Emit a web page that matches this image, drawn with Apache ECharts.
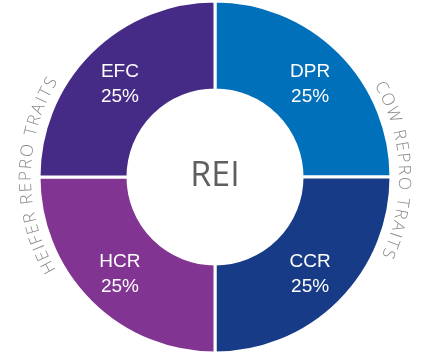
<!DOCTYPE html>
<html>
<head>
<meta charset="utf-8">
<script src="https://cdn.jsdelivr.net/npm/echarts@6/dist/echarts.min.js"></script>
<style>
  html, body { margin: 0; padding: 0; background: #fff; }
  #main { width: 429px; height: 354px; }
</style>
</head>
<body>
<div id="main"></div>
<script>
// traits, clockwise from 12 o'clock
const traits = ['DPR', 'CCR', 'HCR', 'EFC'];
const shares = [25, 25, 25, 25];
const colors = ['#0070bb', '#173b86', '#823492', '#452b86'];
const centerTitle = 'REI';
const leftArcText = 'HEIFER REPRO TRAITS';
const rightArcText = 'COW REPRO TRAITS';

const cx = 215, cy = 177;
const arcRadius = 189;
const arcFont = '300 17px "Open Sans"';
const letterGap = 2;

let chart = echarts.init(document.getElementById('main'));

// measure text widths so letters follow the arc
let measureCtx = document.createElement('canvas').getContext('2d');
measureCtx.font = arcFont;

// lay letters on a circle, centred at angle mid (degrees, math style), reading clockwise
function arcLetters(text, midDeg){
    let widths = text.split('').map(ch => measureCtx.measureText(ch).width + letterGap);
    let total = widths.reduce((a, b) => a + b, 0);
    let theta = midDeg * Math.PI / 180 + (total / 2) / arcRadius;
    let out = [];
    text.split('').forEach((ch, i) => {
        let t = theta - (widths[i] / 2) / arcRadius;
        out.push({
            type: 'text',
            x: cx + arcRadius * Math.cos(t),
            y: cy - arcRadius * Math.sin(t),
            rotation: t - Math.PI / 2,
            style: {
                text: ch,
                font: arcFont,
                fill: '#8a8a8a',
                align: 'center',
                verticalAlign: 'middle'
            }
        });
        theta -= widths[i] / arcRadius;
    });
    return out;
}

let option = {
    animation: false,
    series: [{
        type: 'pie',
        center: [cx, cy],
        radius: [87, 176],
        startAngle: 90,
        clockwise: true,
        silent: true,
        data: traits.map((name, i) => ({
            name: name,
            value: shares[i],
            itemStyle: { color: colors[i] }
        })),
        itemStyle: {
            borderColor: '#fff',
            borderWidth: 3
        },
        label: {
            show: true,
            position: 'inside',
            formatter: '{b}\n{d}%',
            color: '#fff',
            fontFamily: 'Liberation Sans',
            fontSize: 19,
            lineHeight: 25,
            offset: [0, 2]
        },
        labelLine: { show: false }
    }],
    graphic: [{
        type: 'text',
        x: cx,
        y: cy - 1,
        style: {
            text: centerTitle,
            font: '34px "Open Sans"',
            fill: '#5f5f5f',
            align: 'center',
            verticalAlign: 'middle'
        }
    }]
        .concat(arcLetters(leftArcText, 179.5))
        .concat(arcLetters(rightArcText, 2.4))
};

option && chart.setOption(option);
</script>
</body>
</html>
